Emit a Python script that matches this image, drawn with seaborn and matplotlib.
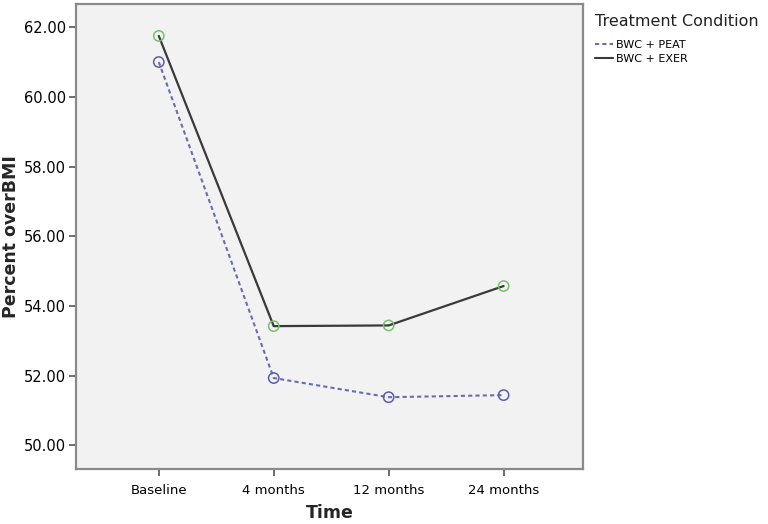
import matplotlib
matplotlib.use('Agg')

import matplotlib.pyplot as plt
from matplotlib.lines import Line2D
import seaborn as sns
import pandas as pd
import numpy as np

times = ["Baseline", "4 months", "12 months", "24 months"]
peat = [61.00, 51.93, 51.38, 51.44]
exer = [61.75, 53.42, 53.44, 54.57]
groups = ["BWC + PEAT", "BWC + EXER"]

line_colors = {"BWC + PEAT": "#6b6bb0", "BWC + EXER": "#3a3a3a"}
marker_colors = {"BWC + PEAT": "#5c5ca8", "BWC + EXER": "#74c26a"}
line_styles = {"BWC + PEAT": (0, (2, 1.5)), "BWC + EXER": "-"}

df = pd.DataFrame({
    "Time": times * 2,
    "pos": list(range(len(times))) * 2,
    "Percent overBMI": peat + exer,
    "group": [groups[0]] * len(times) + [groups[1]] * len(times),
})

sns.set_style("ticks")
plt.rcParams['font.family'] = ['DejaVu Sans']

fig = plt.figure(figsize=(7.68, 5.24), dpi=100)
ax = fig.add_axes([0.099, 0.105, 0.66, 0.887])
ax.set_facecolor("#f2f2f2")

for g in groups:
    sub = df[df["group"] == g]
    sns.lineplot(data=sub, x="pos", y="Percent overBMI", ax=ax, color=line_colors[g],
                 linestyle=line_styles[g], linewidth=1.6 if g == groups[1] else 1.5,
                 legend=False, sort=False)
    sns.scatterplot(data=sub, x="pos", y="Percent overBMI", ax=ax, marker="o", s=55,
                    facecolor="none", edgecolor=marker_colors[g], linewidth=1.1,
                    legend=False, zorder=5)

ax.set_xlim(-0.72, 3.69)
ax.set_ylim(49.32, 62.66)
ax.set_xticks(range(len(times)))
ax.set_xticklabels(times, fontsize=9.5, color="black")
ax.set_yticks(np.arange(50, 63, 2))
ax.set_yticklabels([f"{v:.2f}" for v in np.arange(50, 63, 2)], fontsize=10.5, color="black")
ax.tick_params(axis='both', length=5, width=1.2, color="#555555", pad=2)
ax.tick_params(axis='x', pad=6)
for s in ax.spines.values():
    s.set_color("#8a8a8a")
    s.set_linewidth(1.6)

ax.set_xlabel("Time", fontsize=12.5, fontweight='bold', labelpad=5)
ax.set_ylabel("Percent overBMI", fontsize=12.5, fontweight='bold', labelpad=3)

handles = [Line2D([0], [0], color=line_colors[g], linestyle=line_styles[g], linewidth=1.5)
           for g in groups]
leg = fig.legend(handles, groups, title="Treatment Condition", loc="upper left",
                 bbox_to_anchor=(0.762, 0.993), frameon=False, fontsize=8,
                 title_fontsize=11.5, handlelength=1.6, handletextpad=0.3,
                 labelspacing=0.35)
leg._legend_box.align = "left"
leg._legend_box.sep = 8
leg.get_title().set_color("#222222")
for t in leg.get_texts():
    t.set_color("black")

fig.savefig("out.png", dpi=100)
